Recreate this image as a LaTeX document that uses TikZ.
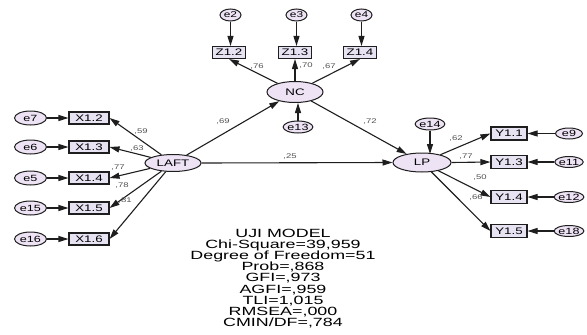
\documentclass[tikz,border=0pt]{standalone}
\usepackage{fontspec}
\setmainfont{Liberation Sans}
\newfontfamily\widefont[FakeStretch=1.4]{Liberation Sans}
\newfontfamily\widerfont[FakeStretch=1.5]{Liberation Sans}
\usetikzlibrary{arrows.meta,shapes.geometric}
\definecolor{lav}{HTML}{EDE3F4}
\definecolor{boxf}{HTML}{E8E3F3}
\definecolor{lbl}{HTML}{505050}
\definecolor{ink}{HTML}{1E1E1E}
\begin{document}
\begin{tikzpicture}[x=1pt,y=-1pt,
  lat/.style={ellipse, draw=ink, fill=lav, line width=1pt, inner sep=0pt,
    font=\widefont\fontsize{9.5}{10}\selectfont},
  err/.style={ellipse, draw=ink, fill=lav, line width=1pt, inner sep=0pt,
    font=\widefont\fontsize{9}{10}\selectfont},
  obs/.style={rectangle, draw=ink, fill=boxf, line width=1.1pt, inner sep=0pt,
    minimum height=12pt, font=\widefont\fontsize{9.5}{10}\selectfont},
  coef/.style={inner sep=0pt, text=lbl, font=\widefont\fontsize{6.8}{7}\selectfont},
  arr/.style={draw=ink, line width=1.1pt, -{Triangle[length=10pt,width=6pt]}}
]
\useasboundingbox (0,0) rectangle (587,335);

% latent variables
\node[lat, minimum width=56pt, minimum height=17pt] (LAFT) at (173,163) {LAFT};
\node[lat, minimum width=56pt, minimum height=21pt] (NC) at (295,92) {NC};
\node[lat, minimum width=58pt, minimum height=19pt] (LP) at (422,162.5) {LP};

% X indicators
\foreach \n/\t/\e/\y in {X12/X1.2/e7/118, X13/X1.3/e6/147, X14/X1.4/e5/178, X15/X1.5/e15/208, X16/X1.6/e16/239}{
  \node[obs, minimum width=40pt] (\n) at (89,\y) {\t};
  \node[err, minimum width=32pt, minimum height=14pt] (\e) at (30.5,\y) {\e};
  \draw[arr] (\e) -- (\n);
  \draw[arr] (LAFT) -- (\n.east);
}

% Z indicators
\foreach \n/\t/\e/\x in {Z12/Z1.2/e2/229, Z13/Z1.3/e3/295, Z14/Z1.4/e4/360}{
  \node[obs, minimum width=33pt] (\n) at (\x,52.5) {\t};
  \node[err, minimum width=21pt, minimum height=12pt,
    font=\widefont\fontsize{8.5}{9}\selectfont] (\e) at (\x+1.5,15) {\e};
  \draw[arr] (\e.south) -- (\e.south |- \n.north);
}
\draw[arr] (NC) -- (Z12.south);
\draw[arr] (NC.north) -- (Z13.south);
\draw[arr] (NC) -- (Z14.south);

% Y indicators
\foreach \n/\t/\e/\y in {Y11/Y1.1/e9/133.5, Y13/Y1.3/e11/162, Y14/Y1.4/e12/197, Y15/Y1.5/e18/231}{
  \node[obs, minimum width=36pt, minimum height=13pt] (\n) at (509,\y) {\t};
  \node[err, minimum width=27pt, minimum height=11pt] (\e) at (569,\y) {\e};
  \draw[arr] (\e) -- (\n);
}
\draw[arr] (LP) -- (Y11.west);
\draw[arr] (LP.east) -- (Y13.west);
\draw[arr] (LP) -- (Y14.west);
\draw[arr] (LP) -- (Y15.west);

% disturbances
\node[err, minimum width=27pt, minimum height=12pt] (e13) at (298,127) {e13};
\node[err, minimum width=28pt, minimum height=12pt] (e14) at (430,124) {e14};
\draw[arr] (e13.north) -- (e13.north |- NC.south);
\coordinate (lptop) at (430,154);
\draw[arr] (e14.south) -- (lptop);

% structural paths
\draw[arr] (LAFT) -- (NC);
\draw[arr] (NC) -- (LP);
\draw[arr] (LAFT.east) -- (LP.west);

% coefficients
\node[coef] (c59) at (141,132) {,59};
\node[coef] (c63) at (137,149) {,63};
\node[coef] (c77a) at (118,168) {,77};
\node[coef] (c78) at (122,186) {,78};
\node[coef] (c81) at (125,201) {,81};
\node[coef] (c76) at (257,67) {,76};
\node[coef] (c70) at (306,66) {,70};
\node[coef] (c67) at (329,67) {,67};
\node[coef] (c69) at (223,122) {,69};
\node[coef] (c72) at (370,122) {,72};
\node[coef] (c25) at (290,157) {,25};
\node[coef] (c62) at (456,139) {,62};
\node[coef] (c77b) at (466,157) {,77};
\node[coef] (c50) at (480,178) {,50};
\node[coef] (c66) at (476,198) {,66};

% fit statistics
\node[inner sep=0pt, align=center, font=\widerfont\fontsize{11.9}{11.2}\selectfont] (stats) at (283,278.5)
  {UJI MODEL\\Chi-Square=39,959\\Degree of Freedom=51\\Prob=,868\\GFI=,973\\AGFI=,959\\TLI=1,015\\RMSEA=,000\\CMIN/DF=,784};
\end{tikzpicture}
\end{document}
